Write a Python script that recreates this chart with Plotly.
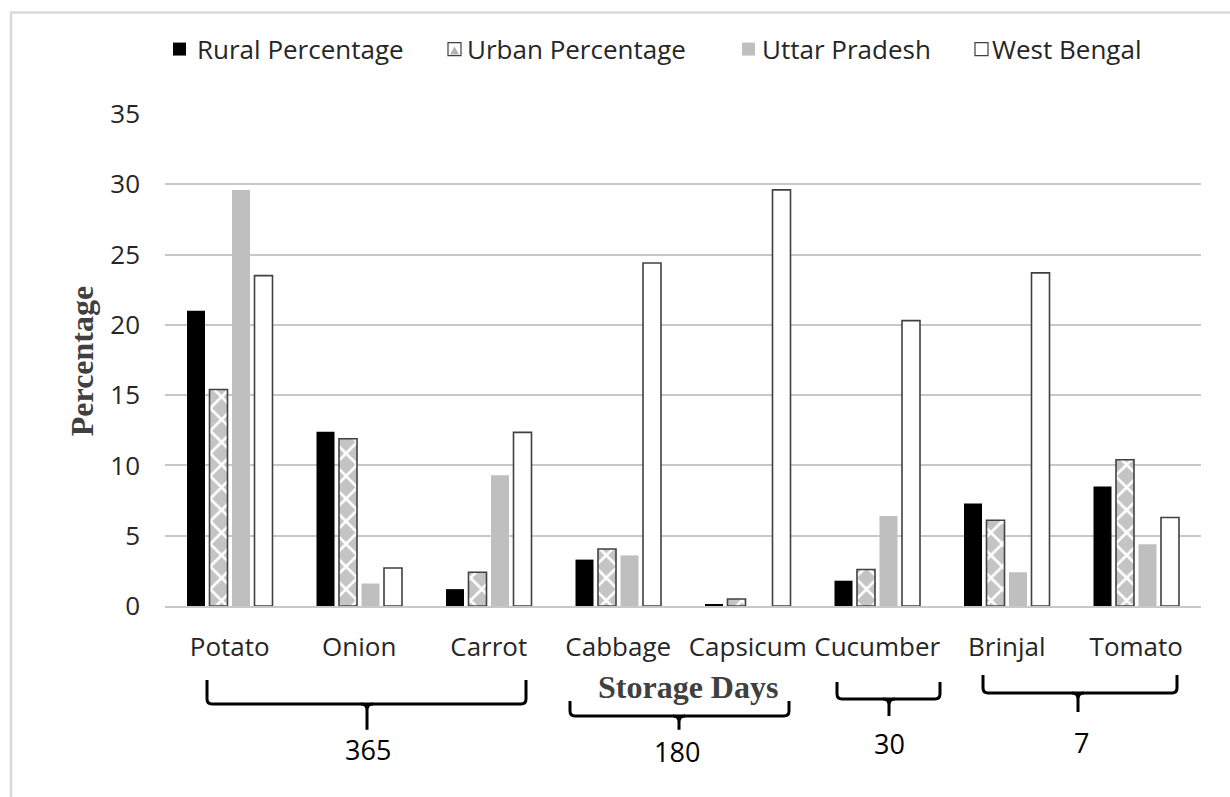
import plotly.graph_objects as go

# Vegetables on the category axis
vegetables = ["Potato", "Onion", "Carrot", "Cabbage", "Capsicum", "Cucumber", "Brinjal", "Tomato"]

# Percentage values per series
rural_pct = [21.0, 12.4, 1.2, 3.3, 0.1, 1.8, 7.3, 8.5]
urban_pct = [15.4, 11.9, 2.4, 4.05, 0.5, 2.6, 6.1, 10.4]
uttar_pradesh = [29.6, 1.6, 9.3, 3.6, 0.0, 6.4, 2.4, 4.4]
west_bengal = [23.5, 2.7, 12.35, 24.4, 29.6, 20.3, 23.7, 6.3]

series_names = ["Rural Percentage", "Urban Percentage", "Uttar Pradesh", "West Bengal"]

# Storage-day groups shown with braces under the category labels
storage_days = ["365", "180", "30", "7"]

y_ticks = [0, 5, 10, 15, 20, 25, 30, 35]

W, H = 1230, 797
L, R, T, B = 165, 1201, 113.5, 606  # plot area in pixels


def px(x):
    return (x - L) / (R - L)


def py(y):
    return (B - y) / (B - T)


OUTLINE = "#404040"
GREY = "#bfbfbf"
TEXT = "#262626"
FS = 26

fig = go.Figure()
fig.add_trace(go.Bar(x=vegetables, y=rural_pct, name=series_names[0],
                     marker=dict(color="#000000", line=dict(width=0))))
fig.add_trace(go.Bar(x=vegetables, y=urban_pct, name=series_names[1],
                     marker=dict(color="#ffffff", line=dict(color=OUTLINE, width=1.6),
                                 pattern=dict(shape="x", fgcolor="#ffffff", bgcolor="#c4c4c4",
                                              size=16, solidity=0.3, fillmode="replace"))))
fig.add_trace(go.Bar(x=vegetables, y=uttar_pradesh, name=series_names[2],
                     marker=dict(color=GREY, line=dict(width=0))))
fig.add_trace(go.Bar(x=vegetables, y=west_bengal, name=series_names[3],
                     marker=dict(color="#ffffff", line=dict(color=OUTLINE, width=1.6))))

shapes = []
annotations = []

# Legend drawn along the top
legend_items = [
    (173, 195, "#000000", None),
    (448, 465, "#ffffff", OUTLINE),
    (742, 760, GREY, None),
    (975, 990, "#ffffff", OUTLINE),
]
for (bx, tx, fill, edge), name in zip(legend_items, series_names):
    shapes.append(dict(type="rect", xref="paper", yref="paper",
                       x0=px(bx), x1=px(bx + 13), y0=py(55), y1=py(42),
                       fillcolor=fill,
                       line=dict(color=edge if edge else fill, width=1.2 if edge else 0)))
    annotations.append(dict(text=name, xref="paper", yref="paper", x=px(tx), y=py(48),
                            xanchor="left", yanchor="middle", showarrow=False,
                            font=dict(family="Open Sans", size=FS, color=TEXT)))
# small hatch glimpse inside the urban legend box
shapes.append(dict(type="path", xref="paper", yref="paper",
                   path=f"M {px(450)},{py(54)} L {px(454.5)},{py(46)} L {px(459)},{py(54)} Z",
                   fillcolor="#b0b0b0", line=dict(width=0)))

# Braces: (left, right, top, bottom, nub end, middle, label x, label y)
braces = [
    (207, 526, 680, 704, 730, 367, 368, 750),
    (570, 789, 701, 716, 730, 679, 677, 752),
    (837, 940, 682, 699, 716, 889, 889, 744),
    (983, 1177, 675, 693, 712, 1078, 1081, 743),
]
for (xl, xr, top, bot, nub, xm, lx, ly), lab in zip(braces, storage_days):
    r = 5
    path = (f"M {px(xl)},{py(top)} L {px(xl)},{py(bot - r)} Q {px(xl)},{py(bot)} {px(xl + r)},{py(bot)} "
            f"L {px(xr - r)},{py(bot)} Q {px(xr)},{py(bot)} {px(xr)},{py(bot - r)} L {px(xr)},{py(top)}")
    shapes.append(dict(type="path", xref="paper", yref="paper", path=path,
                       line=dict(color="#000000", width=3)))
    nub_path = (f"M {px(xm - 6)},{py(bot)} Q {px(xm)},{py(bot)} {px(xm)},{py(bot + 6)} "
                f"L {px(xm)},{py(nub)} M {px(xm + 6)},{py(bot)} Q {px(xm)},{py(bot)} {px(xm)},{py(bot + 6)}")
    shapes.append(dict(type="path", xref="paper", yref="paper", path=nub_path,
                       line=dict(color="#000000", width=3)))
    annotations.append(dict(text=lab, xref="paper", yref="paper", x=px(lx), y=py(ly),
                            xanchor="center", yanchor="middle", showarrow=False,
                            font=dict(family="Open Sans", size=27, color="#000000")))

# Axis titles
annotations.append(dict(text="<b>Storage Days</b>", xref="paper", yref="paper",
                        x=px(688), y=py(687), xanchor="center", yanchor="middle", showarrow=False,
                        font=dict(family="Liberation Serif", size=32, color="#404040")))
annotations.append(dict(text="<b>Percentage</b>", xref="paper", yref="paper",
                        x=px(82), y=py(361), xanchor="center", yanchor="middle", showarrow=False,
                        textangle=-90,
                        font=dict(family="Liberation Serif", size=32, color="#404040")))

# Outer frame (top and left edges fall inside the page)
shapes.append(dict(type="rect", xref="paper", yref="paper",
                   x0=px(11), x1=px(1260), y0=py(12), y1=py(830),
                   line=dict(color="#d9d9d9", width=2.5), fillcolor="rgba(0,0,0,0)", layer="below"))

fig.update_layout(
    width=W, height=H,
    margin=dict(l=L, r=W - R, t=T, b=H - B, pad=0),
    paper_bgcolor="#ffffff", plot_bgcolor="#ffffff",
    barmode="group", bargap=0.305, bargroupgap=0.2,
    showlegend=False,
    shapes=shapes, annotations=annotations,
    font=dict(family="Open Sans", size=FS, color=TEXT),
)
fig.update_xaxes(showline=True, linecolor="#c8c8c8", linewidth=1.5, ticks="",
                 ticklabelstandoff=17, tickfont=dict(family="Open Sans", size=FS, color=TEXT),
                 showgrid=False)
fig.update_yaxes(range=[0, 35], tickvals=y_ticks, showgrid=True, gridcolor="#c8c8c8",
                 gridwidth=1.5, zeroline=False, showline=False, ticks="",
                 ticklabelstandoff=24, tickfont=dict(family="Open Sans", size=FS, color=TEXT))

fig.write_html("out.html")
